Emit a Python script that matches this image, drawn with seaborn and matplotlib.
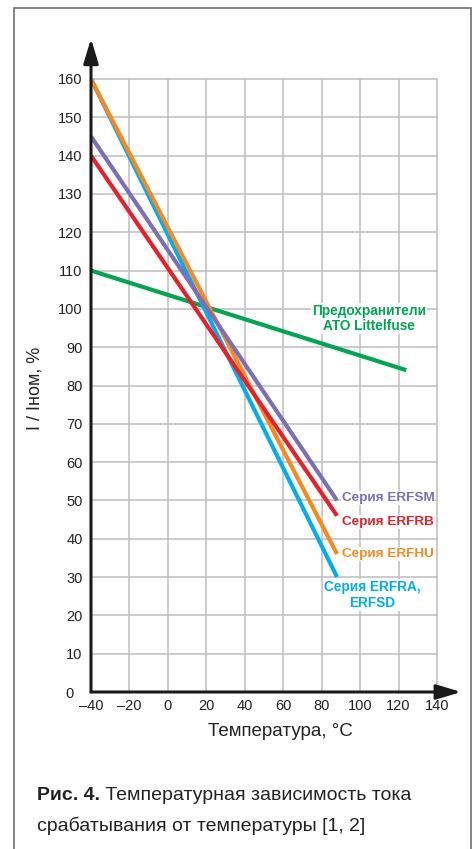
import numpy as np
import pandas as pd
import seaborn as sns
import matplotlib.pyplot as plt
from matplotlib.patches import Rectangle
from matplotlib.transforms import ScaledTranslation

# данные
series_names = ["ATO Littelfuse", "ERFSM", "ERFRB", "ERFHU", "ERFRA"]
t_ato = [-40, 124]
i_ato = [110, 84]
t_erf = [-40, 88]
i_erfsm = [145, 50]
i_erfrb = [140, 46]
i_erfhu = [160, 36]
i_erfra = [160, 30]

colors = {"ATO Littelfuse": "#00a651", "ERFSM": "#7b6fb5", "ERFRB": "#e8202a",
          "ERFHU": "#f7891f", "ERFRA": "#00aeef"}

xticks = [-40, -20, 0, 20, 40, 60, 80, 100, 120, 140]
xtick_labels = ["\u201340", "\u201320", "0", "20", "40", "60", "80", "100", "120", "140"]
yticks = list(range(0, 161, 10))

df = pd.concat([
    pd.DataFrame({"T": t_ato, "I": i_ato, "s": "ATO Littelfuse"}),
    pd.DataFrame({"T": t_erf, "I": i_erfsm, "s": "ERFSM"}),
    pd.DataFrame({"T": t_erf, "I": i_erfrb, "s": "ERFRB"}),
    pd.DataFrame({"T": t_erf, "I": i_erfhu, "s": "ERFHU"}),
    pd.DataFrame({"T": t_erf, "I": i_erfra, "s": "ERFRA"}),
])

sns.set_style("white")
plt.rcParams['font.family'] = ['Liberation Sans', 'DejaVu Sans']

fig = plt.figure(figsize=(4.74, 8.49), dpi=100)
ax = fig.add_axes([91/474, 1-692/849, 346/474, 613/849])

# рамка вокруг рисунка
fig.add_artist(Rectangle((14/474, -0.02), 457/474, 1.02-8/849, transform=fig.transFigure,
                         fill=False, edgecolor="#6e6e6e", lw=1.2))

sns.lineplot(data=df, x="T", y="I", hue="s", hue_order=["ATO Littelfuse", "ERFRA", "ERFHU", "ERFSM", "ERFRB"],
             palette=colors, lw=3, legend=False, ax=ax, zorder=3)
for ln in ax.get_lines():
    ln.set_solid_capstyle("butt")

ax.set_xlim(-40, 140)
ax.set_ylim(0, 160)
ax.set_xticks(xticks)
ax.set_xticklabels(xtick_labels)
ax.set_yticks(yticks)
ax.tick_params(length=0, labelsize=10.5, colors="#222222")
ax.tick_params(axis="x", pad=5)
ax.tick_params(axis="y", pad=6)
ax.grid(True, color="#bdbdbd", lw=1.1)
for gl in ax.get_xgridlines() + ax.get_ygridlines():
    gl.set_clip_on(False)
ax.set_xlabel("")
ax.set_ylabel("")
for sp in ax.spines.values():
    sp.set_visible(False)

# «0» сдвинут левее
ax.get_yticklabels()[0].set_transform(ax.get_yticklabels()[0].get_transform()
                                       + ScaledTranslation(-9/100, 0, fig.dpi_scale_trans))

# оси со стрелками
arr = dict(arrowstyle="-|>,head_length=1.5,head_width=0.45", color="#1a1a1a", lw=2.2, shrinkA=0, shrinkB=0)
ax.annotate("", xy=(1.07, 0), xytext=(0, 0), xycoords="axes fraction", arrowprops=arr, annotation_clip=False)
ax.annotate("", xy=(0, 1.066), xytext=(0, 0), xycoords="axes fraction", arrowprops=arr, annotation_clip=False)

# подписи серий
wb = dict(fc="white", ec="none", pad=0.5)
lab = dict(fontsize=9.7, fontweight="bold", ha="left", va="center", bbox=wb)
ax.text(104.6, 97.4, "Предохранители\nATO Littelfuse", color=colors["ATO Littelfuse"],
        fontsize=9.8, fontweight="bold", ha="center", va="center", linespacing=1.12, bbox=wb)
ax.text(90.6, 50.6, "Серия ERFSM", color=colors["ERFSM"], **lab)
ax.text(90.6, 44.4, "Серия ERFRB", color=colors["ERFRB"], **lab)
ax.text(90.6, 36.0, "Серия ERFHU", color=colors["ERFHU"], **lab)
ax.text(106.2, 25.3, "Серия ERFRA,\nERFSD", color=colors["ERFRA"], fontsize=9.8, fontweight="bold",
        ha="center", va="center", linespacing=1.25, bbox=wb)

fig.text(280/474, 1-732/849, "Температура, °C", fontsize=13.5, ha="center", va="center", color="#222222")
fig.text(35/474, 1-388/849, "I / Iном, %", fontsize=13, rotation=90, ha="center", va="center", color="#222222")

# подпись к рисунку
t1 = fig.text(37/474, 1-795/849, "Рис. 4.", fontsize=14, fontweight="bold", ha="left", va="center", color="#222222")
ax.annotate(" Температурная зависимость тока", xy=(1, 0.5), xycoords=t1, ha="left", va="center",
            fontsize=14, color="#222222", annotation_clip=False)
fig.text(37/474, 1-826/849, "срабатывания от температуры [1, 2]", fontsize=14, ha="left", va="center", color="#222222")

fig.savefig("out.png", dpi=100)
